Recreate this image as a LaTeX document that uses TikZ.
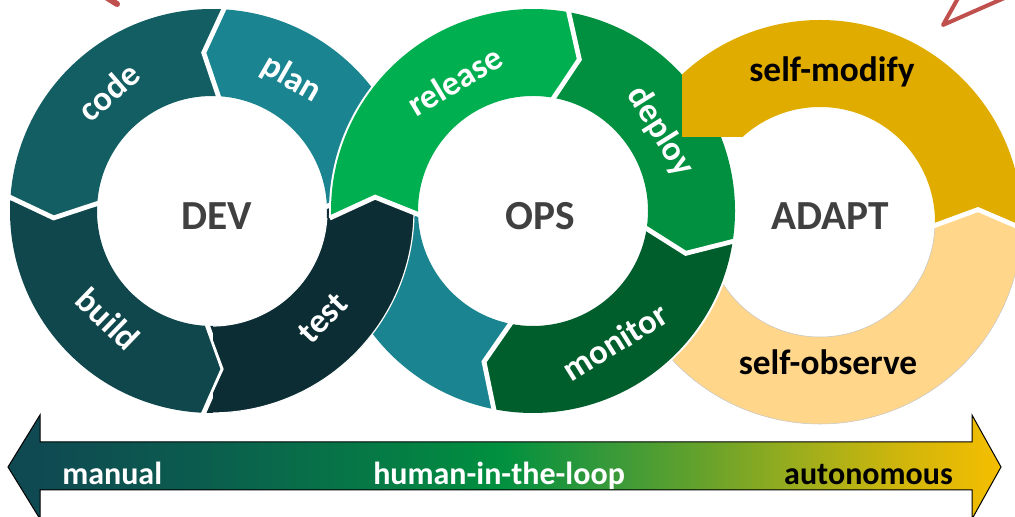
\documentclass[tikz,border=0pt]{standalone}
\usepackage{fontspec}
\setmainfont{Carlito}
\definecolor{cPlan}{HTML}{1A8590}
\definecolor{cCode}{HTML}{135E63}
\definecolor{cBuild}{HTML}{0F474D}
\definecolor{cTest}{HTML}{0B2D33}
\definecolor{cRel}{HTML}{00B050}
\definecolor{cDep}{HTML}{00903F}
\definecolor{cMon}{HTML}{005E2C}
\definecolor{cTeal}{HTML}{1A8590}
\definecolor{cMod}{HTML}{E0AC00}
\definecolor{cObs}{HTML}{FFD68A}
\definecolor{cTxt}{HTML}{404040}
\definecolor{cRed}{HTML}{C0504D}
\definecolor{gA}{HTML}{0F4A52}
\definecolor{gB}{HTML}{0B5C4E}
\definecolor{gC}{HTML}{067846}
\definecolor{gD}{HTML}{00903F}
\definecolor{gE}{HTML}{35993A}
\definecolor{gF}{HTML}{66A22B}
\definecolor{gG}{HTML}{9EAE1C}
\definecolor{gH}{HTML}{D0B60C}
\definecolor{gI}{HTML}{F5BE00}
\pgfdeclarehorizontalshading{autograd}{100bp}{color(0bp)=(gA); color(26.5bp)=(gA); color(34.5bp)=(gB); color(43bp)=(gC); color(49.75bp)=(gD); color(55bp)=(gE); color(60bp)=(gF); color(65bp)=(gG); color(70bp)=(gH); color(75bp)=(gI); color(100bp)=(gI)}
\begin{document}
\begin{tikzpicture}[x=0.75pt,y=0.75pt,
  seg/.style n args={5}{insert path={(#3:#2) arc[start angle=#3,end angle=#4,radius=#2] -- ({#4+#5}:{(#1+#2)/2}) -- (#4:#1) arc[start angle=#4,end angle=#3,radius=#1] -- ({#3+#5}:{(#1+#2)/2}) -- cycle}},
  chev/.style n args={4}{insert path={(#3:{#2+1.5}) -- ({#3+#4}:{(#1+#2)/2}) -- (#3:{#1-1.5})}},
  gap/.style={draw=white, line width=3.6pt, line join=miter},
  lbl/.style={text=white, font=\fontsize{26}{30}\selectfont\bfseries, inner sep=0pt},
  ctr/.style={text=cTxt, font=\fontsize{31}{36}\selectfont\bfseries, inner sep=0pt, anchor=base},
  alb/.style={text=black, font=\fontsize{26.5}{30}\selectfont\bfseries, inner sep=0pt, anchor=base},
  arl/.style={font=\fontsize{24}{28}\selectfont\bfseries, inner sep=0pt},
  redline/.style={draw=cRed, line width=3pt, line join=round}]
\useasboundingbox (0,0) rectangle (1015,517);

% ADAPT lower segment (under OPS)
\begin{scope}[shift={(820,295)}]
  \fill[cObs, draw=gray!45, line width=0.4pt] [seg={115}{202}{160}{358}{6.5}];
\end{scope}

% DEV ring
\begin{scope}[shift={(212,306)}]
  \fill[cPlan] [seg={115}{202}{2}{86.5}{6.5}];
  \fill[cCode] [seg={115}{202}{86.5}{176}{6.5}];
  \fill[cBuild] [seg={115}{202}{176}{267.5}{6.5}];
  \fill[cTest] [seg={115}{202}{267.5}{362}{6.5}];
  \draw[gap] [chev={115}{202}{86.5}{6.5}];
  \draw[gap] [chev={115}{202}{176}{6.5}];
  \draw[gap] [chev={115}{202}{267.5}{6.5}];
  \draw[gap] [chev={115}{202}{2}{6.5}];
\end{scope}

% OPS ring
\begin{scope}[shift={(533,306)}]
  \fill[white] (0,0) circle[radius=204];
  \fill[cRel] [seg={115}{202}{182}{80}{-7}];
  \fill[cDep] [seg={115}{202}{80}{-8.5}{-7}];
  \fill[cMon] [seg={115}{202}{-8.5}{-101}{-7}];
  \fill[cTeal] [seg={115}{202}{-101}{-178}{-7}];
  \draw[gap] [chev={115}{202}{80}{-7}];
  \draw[gap] [chev={115}{202}{-8.5}{-7}];
  \draw[gap] [chev={115}{202}{-101}{-7}];
  % DEV "test" passes over OPS in the lower overlap
  \begin{scope}
    \clip (182:320) -- (182:202) -- (175:158.5) -- (182:115) -- (-115,-320) -- (-320,-320) -- cycle;
    \fill[cTest, draw=white, line width=0.9pt, shift={(-321,0)}] [seg={115}{202}{267.5}{362}{6.5}];
  \end{scope}
  \draw[gap] [chev={115}{202}{182}{-7}];
\end{scope}

% ADAPT upper segment (over OPS)
\begin{scope}
  \clip (682,600) -- (1100,600) -- (1100,-50) -- (760,-50) -- (760,380) -- (682,380) -- cycle;
  \fill[cMod, shift={(820,295)}] [seg={115}{202}{-2}{200}{6.5}];
\end{scope}
\draw[gap, shift={(820,295)}] [chev={115}{202}{-2}{6.5}];

% ring labels
\begin{scope}[shift={(212,306)}]
  \node[lbl, rotate=41] (code) at (131:158) {code};
  \node[lbl, rotate=-30] (plan) at (59:154) {plan};
  \node[lbl, rotate=-44] (build) at (226:150) {build};
  \node[lbl, rotate=46] (test) at (-44:154) {test};
\end{scope}
\begin{scope}[shift={(533,306)}]
  \node[lbl, rotate=31] (release) at (121:152) {release};
  \node[lbl, rotate=-58] (deploy) at (32:150) {deploy};
  \node[lbl, rotate=32] (monitor) at (-58:154) {monitor};
\end{scope}

% centre labels
\node[ctr] (dev) at (217,287) {DEV};
\node[ctr] (ops) at (540,287) {OPS};
\node[ctr] (adapt) at (830,287) {ADAPT};
\node[alb] (smod) at (832,435) {self-modify};
\node[alb] (sobs) at (828,142) {self-observe};

% bottom double arrow
\shadedraw[shading=autograd, draw=black, line width=0.75pt, line join=miter]
  (8,50) -- (40,102) -- (40,75) -- (972,75) -- (972,102) -- (1001,50) -- (972,-2) -- (972,27) -- (40,27) -- (40,-2) -- cycle;
\node[arl, text=white, anchor=base west] (manual) at (62,32) {manual};
\node[arl, text=white, anchor=base west] (hitl) at (373,32) {human-in-the-loop};
\node[arl, text=black, anchor=base east] (auto) at (953,32) {autonomous};

% red marks at the top edge
\draw[redline] (961.5,525) -- (943,492) -- (1018,525);
\draw[cRed, line width=4.5pt, line cap=round] (98,525) -- (117,513);
\end{tikzpicture}
\end{document}
